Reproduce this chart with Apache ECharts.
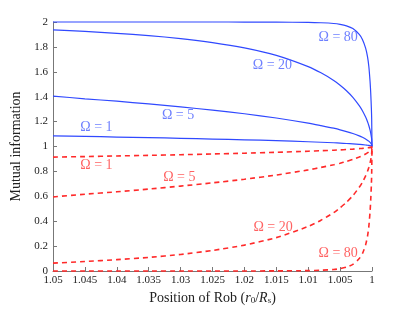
<!DOCTYPE html>
<html>
<head>
<meta charset="utf-8">
<script src="https://cdn.jsdelivr.net/npm/echarts@6/dist/echarts.min.js"></script>
<style>
  html, body { margin: 0; padding: 0; background: #fff; }
  #chart { width: 415px; height: 332px; }
</style>
</head>
<body>
<div id="chart"></div>
<script>
// position r0/Rs (axis runs from 1.05 down to 1)
var xPos = [1.05, 1.045, 1.04, 1.035, 1.03, 1.025, 1.02, 1.015, 1.01, 1.008, 1.006, 1.005, 1.004, 1.003, 1.002, 1.0015, 1.001, 1.0007, 1.0005, 1.0003, 1.0002, 1.0001, 1.00005, 1];

// solid blue curves
var blue1 = [1.085, 1.081, 1.076, 1.071, 1.066, 1.060, 1.054, 1.047, 1.038, 1.034, 1.030, 1.027, 1.024, 1.021, 1.017, 1.015, 1.012, 1.010, 1.009, 1.007, 1.005, 1.004, 1.003, 1];
var blue5 = [1.405, 1.383, 1.364, 1.342, 1.318, 1.292, 1.263, 1.229, 1.188, 1.168, 1.147, 1.134, 1.120, 1.104, 1.085, 1.074, 1.060, 1.050, 1.043, 1.033, 1.027, 1.019, 1.013, 1];
var blue20 = [1.937, 1.924, 1.909, 1.891, 1.867, 1.835, 1.792, 1.732, 1.642, 1.592, 1.531, 1.492, 1.448, 1.395, 1.328, 1.287, 1.236, 1.199, 1.169, 1.131, 1.107, 1.076, 1.054, 1];
var blue80 = [2.000, 2.000, 2.000, 2.000, 2.000, 1.9999, 1.9997, 1.999, 1.997, 1.994, 1.988, 1.981, 1.969, 1.947, 1.900, 1.860, 1.790, 1.720, 1.645, 1.520, 1.430, 1.310, 1.220, 1];

// dashed red curves
var red1 = [0.915, 0.919, 0.924, 0.929, 0.934, 0.940, 0.946, 0.953, 0.962, 0.966, 0.970, 0.973, 0.976, 0.979, 0.983, 0.985, 0.988, 0.990, 0.991, 0.993, 0.995, 0.996, 0.997, 1];
var red5 = [0.595, 0.617, 0.636, 0.658, 0.682, 0.708, 0.737, 0.771, 0.812, 0.832, 0.853, 0.866, 0.880, 0.896, 0.915, 0.926, 0.940, 0.950, 0.957, 0.967, 0.973, 0.981, 0.987, 1];
var red20 = [0.063, 0.076, 0.091, 0.109, 0.133, 0.165, 0.208, 0.268, 0.358, 0.408, 0.469, 0.508, 0.552, 0.605, 0.672, 0.713, 0.764, 0.801, 0.831, 0.869, 0.893, 0.924, 0.946, 1];
var red80 = [0, 0, 0, 0, 0, 0.0001, 0.0003, 0.001, 0.003, 0.006, 0.012, 0.019, 0.031, 0.053, 0.100, 0.140, 0.210, 0.280, 0.355, 0.480, 0.570, 0.690, 0.780, 1];

// curve labels: [text, x, y]
var blueLabels = [['Ω = 1', 1.0432, 1.156], ['Ω = 5', 1.0304, 1.252], ['Ω = 20', 1.0156, 1.648], ['Ω = 80', 1.0053, 1.878]];
var redLabels = [['Ω = 1', 1.0432, 0.851], ['Ω = 5', 1.0302, 0.754], ['Ω = 20', 1.0155, 0.353], ['Ω = 80', 1.0053, 0.144]];

var BLUE = '#3049ff';
var RED = '#ff2a2a';
var FONT = '"Liberation Serif", "DejaVu Serif", serif';

function pairs(ys) {
  return xPos.map(function (x, i) { return [x, ys[i]]; });
}

function labelSeries(list, color) {
  return {
    type: 'scatter',
    symbolSize: 0,
    silent: true,
    data: list.map(function (l) { return { value: [l[1], l[2]], name: l[0] }; }),
    label: {
      show: true,
      position: 'inside',
      formatter: '{b}',
      color: color,
      fontFamily: FONT,
      fontSize: 14
    },
    z: 5
  };
}

function curve(ys, color, dashed) {
  return {
    type: 'line',
    data: pairs(ys),
    showSymbol: false,
    smooth: 0.2,
    clip: false,
    lineStyle: {
      color: color,
      width: dashed ? 1.6 : 1.2,
      type: dashed ? [5, 4] : 'solid'
    }
  };
}

var chart = echarts.init(document.getElementById('chart'));
var option = {
  backgroundColor: '#fff',
  animation: false,
  grid: { left: 53, right: 43, top: 22, bottom: 61 },
  xAxis: {
    type: 'value',
    min: 1,
    max: 1.05,
    interval: 0.005,
    inverse: true,
    axisLine: { lineStyle: { color: '#777', width: 1 } },
    axisTick: { inside: true, length: 4, lineStyle: { color: '#777' } },
    splitLine: { show: false },
    axisLabel: {
      color: '#222', fontFamily: FONT, fontSize: 11, margin: 4,
      formatter: function (v) { return String(+v.toFixed(3)); }
    },
    name: 'Position of Rob ({i|r}{s|0}/{i|R}{s|s})',
    nameLocation: 'middle',
    nameGap: 18,
    nameTextStyle: {
      color: '#222', fontFamily: FONT, fontSize: 14,
      rich: {
        i: { fontFamily: FONT, fontStyle: 'italic', fontSize: 14, color: '#222' },
        s: { fontFamily: FONT, fontSize: 9, color: '#222', verticalAlign: 'bottom', padding: [6, 0, 0, 0] }
      }
    }
  },
  yAxis: {
    type: 'value',
    min: 0,
    max: 2,
    interval: 0.2,
    axisLine: { show: true, lineStyle: { color: '#777', width: 1 } },
    axisTick: { show: true, inside: true, length: 4, lineStyle: { color: '#777' } },
    splitLine: { show: false },
    axisLabel: {
      color: '#222', fontFamily: FONT, fontSize: 11, margin: 5,
      formatter: function (v) { return String(+v.toFixed(1)); }
    },
    name: 'Mutual information',
    nameLocation: 'middle',
    nameRotate: 90,
    nameGap: 30,
    nameTextStyle: { color: '#222', fontFamily: FONT, fontSize: 14 }
  },
  series: [
    curve(blue1, BLUE, false),
    curve(blue5, BLUE, false),
    curve(blue20, BLUE, false),
    curve(blue80, BLUE, false),
    curve(red1, RED, true),
    curve(red5, RED, true),
    curve(red20, RED, true),
    curve(red80, RED, true),
    labelSeries(blueLabels, '#4a60ff'),
    labelSeries(redLabels, '#ff3b3b')
  ]
};
chart.setOption(option);
</script>
</body>
</html>
